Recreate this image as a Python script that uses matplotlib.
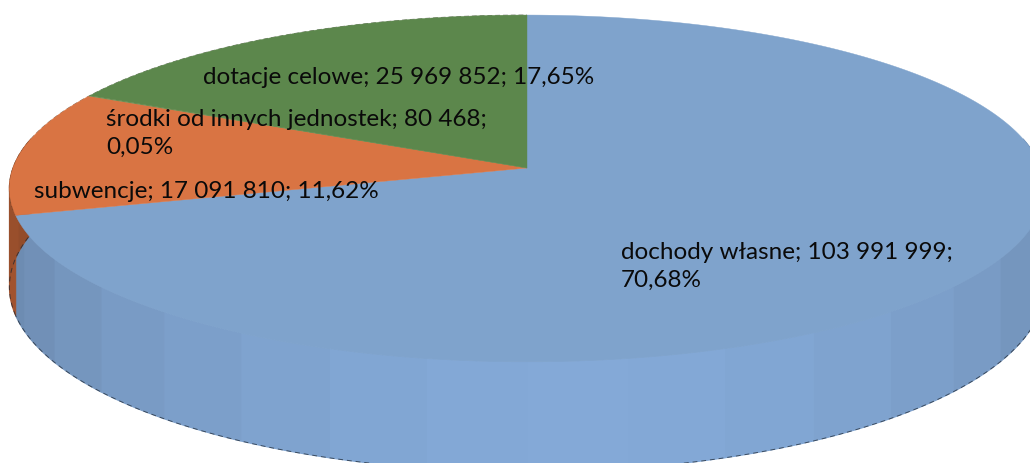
#!/usr/bin/env python3
"""Wykres 3D kołowy struktury dochodów, rysowany ręcznie z rzutem perspektywicznym."""
import numpy as np
import matplotlib
matplotlib.use("Agg")
import matplotlib.pyplot as plt

# kolejność zgodnie ze wskazówkami zegara, start od godziny 12
CATEGORIES = ["dochody własne", "subwencje", "środki od innych jednostek", "dotacje celowe"]
VALUES = [103991999, 17091810, 80468, 25969852]
LABELS = [
    "dochody własne; 103 991 999;\n70,68%",
    "subwencje; 17 091 810; 11,62%",
    "środki od innych jednostek; 80 468;\n0,05%",
    "dotacje celowe; 25 969 852; 17,65%",
]
LABEL_XY = [(621, 266), (34, 191), (106, 133), (203, 77)]
COLORS = ["#7FA3CC", "#D97443", "#7A8F55", "#5C874C"]
SIDE_COLORS = ["#84A9D7", "#C9683A", "#6A7F48", "#4C7040"]

# geometria rzutu (piksele obrazka)
CX, CY = 527, 168
A, B, K = 514, 171, 0.118
DEPTH = 97
STRIP = 10  # stopni na pasek boku


def project(deg, r=1.0):
    """Kąt (zgodnie z zegarem od góry) -> punkt na górnej powierzchni."""
    t = np.radians(deg)
    u, v = r * np.sin(t), r * np.cos(t)
    w = 1 + K * v
    return CX + A * u / w, CY - B * v / w


def lower(deg):
    """Ten sam punkt obwodu, ale na dolnej krawędzi boku."""
    x, y = project(deg)
    return x, y + DEPTH / (1 + K * np.cos(np.radians(deg)))


def shade(color, factor):
    rgb = np.array(matplotlib.colors.to_rgb(color))
    return tuple(rgb * factor)


def main() -> None:
    plt.rcParams["font.family"] = ["Lato", "DejaVu Sans"]
    fig = plt.figure(figsize=(10.3, 4.63), dpi=100)
    ax = fig.add_axes([0, 0, 1, 1])
    ax.set_xlim(0, 1030)
    ax.set_ylim(463, 0)
    ax.axis("off")

    edges = np.concatenate([[0], np.cumsum(VALUES) / np.sum(VALUES) * 360])

    # bok: paski tylko dla przedniej części (90..270 stopni)
    for i in range(len(VALUES)):
        a0, a1 = max(edges[i], 80), min(edges[i + 1], 280)
        if a1 <= a0:
            continue
        steps = np.arange(a0, a1, STRIP).tolist() + [a1]
        for s0, s1 in zip(steps[:-1], steps[1:]):
            ang = np.linspace(s0, s1, 8)
            xt, yt = project(ang)
            xb, yb = lower(ang)
            t = abs((s0 + s1) / 2 - 175) / 85
            col = shade(SIDE_COLORS[i], 1 - 0.2 * t ** 1.6)
            ax.fill(np.r_[xt, xb[::-1]], np.r_[yt, yb[::-1]], color=col, lw=0.8, zorder=1)
        # ciemny poszarpany brzeg dołu, bez części schowanej za górą
        ang = np.linspace(max(a0, 100), a1, 200)
        xb, yb = lower(ang)
        ax.plot(xb, yb, color="#1C2530", lw=0.7, ls=(0, (5, 4)), alpha=0.7, zorder=2)

    # górna powierzchnia
    for i in range(len(VALUES)):
        ang = np.linspace(edges[i], edges[i + 1], 300)
        xt, yt = project(ang)
        ax.fill(np.r_[CX, xt], np.r_[CY, yt], color=COLORS[i], lw=0.3, zorder=3)

    # ciemny brzeg od tyłu
    ang = np.linspace(256, 360, 300)
    xt, yt = project(ang)
    ax.plot(xt, yt, color="#2A2A20", lw=0.7, ls=(0, (5, 3)), alpha=0.6, zorder=2.5)

    for txt, (x, y) in zip(LABELS, LABEL_XY):
        ax.text(x, y, txt, fontsize=17.5, color="#0A0A0A", ha="left", va="center",
                linespacing=1.4, zorder=5)

    fig.savefig("out.png", dpi=100)


if __name__ == "__main__":
    main()
